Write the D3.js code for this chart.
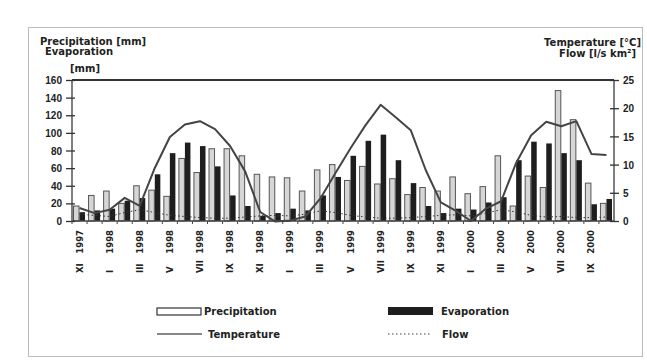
<!DOCTYPE html>
<html>
<head>
<meta charset="utf-8">
<script src="https://cdn.jsdelivr.net/npm/d3@7/dist/d3.min.js"></script>
<style>
  body { margin: 0; background: #fff; }
  svg { display: block; font-family: "DejaVu Sans", sans-serif; font-weight: bold; }
  .axis text { font-size: 10px; fill: #222; }
  .axis path { display: none; }
  .lbl { font-size: 10px; fill: #222; }
</style>
</head>
<body>
<script>
// monthly series, XI 1997 .. X 2000
const months = ["XI 1997","XII 1997","I 1998","II 1998","III 1998","IV 1998","V 1998","VI 1998","VII 1998","VIII 1998","IX 1998","X 1998",
                "XI 1998","XII 1998","I 1999","II 1999","III 1999","IV 1999","V 1999","VI 1999","VII 1999","VIII 1999","IX 1999","X 1999",
                "XI 1999","XII 1999","I 2000","II 2000","III 2000","IV 2000","V 2000","VI 2000","VII 2000","VIII 2000","IX 2000","X 2000"];
const precipitation = [17,29,34,20,40,35,28,71,55,82,82,74, 53,50,49,34,58,64,46,62,42,48,30,38, 34,50,31,39,74,17,51,38,148,115,43,20];
const evaporation   = [10,12,14,23,26,53,77,89,85,62,29,17, 6,9,14,12,29,50,74,91,98,69,43,17, 9,14,13,21,27,69,90,88,77,69,19,25];
const temperature   = [2.3,1.4,2.0,4.1,2.7,9.4,14.9,17.1,17.7,16.3,13.3,8.8, 1.6,-0.1,0.1,0.8,4.0,8.5,12.9,17.0,20.6,18.4,16.1,9.0, 3.3,1.8,0.0,2.2,3.5,10.3,15.2,17.6,16.8,17.7,11.9,11.7];
const flow          = [1.2,1.0,0.8,1.5,2.0,1.5,1.0,0.8,0.6,0.5,0.5,0.7, 0.9,1.0,0.9,1.2,1.8,1.5,1.0,0.7,0.5,0.5,0.6,0.8, 1.0,1.1,0.9,1.4,2.0,1.6,1.0,0.7,0.8,0.6,0.6,0.7];
const leftTicks = [0,20,40,60,80,100,120,140,160];
const rightTicks = [0,5,10,15,20,25];

const W = 647, H = 362;
const x0 = 72, x1 = 614, yTop = 80, yBot = 221;

const svg = d3.select("body").append("svg").attr("width", W).attr("height", H);

// outer frame
svg.append("rect").attr("x", 28.5).attr("y", 27.5).attr("width", 614).attr("height", 329)
  .attr("fill", "none").attr("stroke", "#bbb");

const x = d3.scaleBand().domain(months).range([x0, x1]).paddingInner(0.2).paddingOuter(0.1);
const sub = d3.scaleBand().domain(["p","e"]).range([0, x.bandwidth()]);
const yL = d3.scaleLinear().domain([0,160]).range([yBot, yTop]);
const yR = d3.scaleLinear().domain([0,25]).range([yBot, yTop]);

// bars
const g = svg.append("g");
g.selectAll("rect.p").data(precipitation).join("rect").attr("class","p")
  .attr("x", (d,i) => x(months[i]) + sub("p"))
  .attr("y", d => yL(d)).attr("width", sub.bandwidth() - 0.5).attr("height", d => yL(0) - yL(d))
  .attr("fill", "#d6d6d6").attr("stroke", "#555").attr("stroke-width", 1);
g.selectAll("rect.e").data(evaporation).join("rect").attr("class","e")
  .attr("x", (d,i) => x(months[i]) + sub("e"))
  .attr("y", d => yL(d)).attr("width", sub.bandwidth() - 0.5).attr("height", d => yL(0) - yL(d))
  .attr("fill", "#1e1e1e");

// lines
const cx = (d,i) => x(months[i]) + x.bandwidth()/2;
svg.append("path").datum(flow)
  .attr("d", d3.line().x(cx).y(d => yR(d)))
  .attr("fill","none").attr("stroke","#333").attr("stroke-width",1).attr("stroke-dasharray","1.5,2.5");
svg.append("path").datum(temperature)
  .attr("d", d3.line().x(cx).y(d => yR(d)))
  .attr("fill","none").attr("stroke","#444").attr("stroke-width",2).attr("stroke-linejoin","round");

// frame lines
svg.append("line").attr("x1", x0).attr("x2", x1).attr("y1", yTop).attr("y2", yTop).attr("stroke","#333").attr("stroke-width",1.8);
svg.append("line").attr("x1", x0).attr("x2", x1).attr("y1", yBot).attr("y2", yBot).attr("stroke","#444").attr("stroke-width",1.5);
svg.append("line").attr("x1", x0).attr("x2", x0).attr("y1", yTop).attr("y2", yBot).attr("stroke","#555").attr("stroke-width",1.5);
svg.append("line").attr("x1", x1).attr("x2", x1).attr("y1", yTop).attr("y2", yBot).attr("stroke","#555").attr("stroke-width",1.5);

// axes
const axL = svg.append("g").attr("class","axis").attr("transform", `translate(${x0},0)`)
  .call(d3.axisLeft(yL).tickValues(leftTicks).tickSize(6).tickPadding(4));
axL.selectAll(".tick line").attr("x1", 3).attr("stroke","#333").attr("stroke-width",1.3);
axL.selectAll(".tick text").attr("dy","0.36em");

const axR = svg.append("g").attr("class","axis").attr("transform", `translate(${x1},0)`)
  .call(d3.axisRight(yR).tickValues(rightTicks).tickSize(5).tickPadding(4));
axR.selectAll(".tick line").attr("x1", -4).attr("stroke","#333").attr("stroke-width",1.3);
axR.selectAll(".tick text").attr("dy","0.36em");

// month ticks
svg.append("g").selectAll("line").data(months).join("line")
  .attr("x1", d => x(d) - x.step()*x.paddingInner()/2).attr("x2", d => x(d) - x.step()*x.paddingInner()/2)
  .attr("y1", yBot).attr("y2", yBot + 3).attr("stroke","#444");

// rotated month labels every second month
const lab = months.filter((d,i) => i % 2 === 0);
const xl = svg.append("g").attr("font-size", "8.5px").attr("fill", "#222");
xl.selectAll("text.yr").data(lab).join("text").attr("class","yr")
  .attr("transform", d => `translate(${x(d) + x.bandwidth()/2 + 3},230) rotate(-90)`)
  .attr("text-anchor","end").text(d => d.split(" ")[1]);
xl.selectAll("text.rn").data(lab).join("text").attr("class","rn")
  .attr("transform", d => `translate(${x(d) + x.bandwidth()/2 + 3},273) rotate(-90)`)
  .attr("text-anchor","start").text(d => d.split(" ")[0]);

// axis titles
svg.append("text").attr("class","lbl").attr("x", 40).attr("y", 45).text("Precipitation [mm]");
svg.append("text").attr("class","lbl").attr("x", 45).attr("y", 55).text("Evaporation");
svg.append("text").attr("class","lbl").attr("x", 70).attr("y", 72).text("[mm]");
svg.append("text").attr("class","lbl").attr("x", 641).attr("y", 46).attr("text-anchor","end").text("Temperature [°C]");
svg.append("text").attr("class","lbl").attr("x", 636).attr("y", 57).attr("text-anchor","end").text("Flow [l/s km²]");

// legend
const lg = svg.append("g");
lg.append("rect").attr("x",157).attr("y",308).attr("width",44).attr("height",7).attr("fill","#fff").attr("stroke","#333").attr("stroke-width",1.2);
lg.append("text").attr("class","lbl").attr("x",204).attr("y",315).text("Precipitation");
lg.append("rect").attr("x",388).attr("y",307).attr("width",45).attr("height",8).attr("fill","#1e1e1e");
lg.append("text").attr("class","lbl").attr("x",441).attr("y",315).text("Evaporation");
lg.append("line").attr("x1",157).attr("x2",202).attr("y1",334).attr("y2",334).attr("stroke","#888").attr("stroke-width",2);
lg.append("text").attr("class","lbl").attr("x",208).attr("y",338).text("Temperature");
lg.append("line").attr("x1",388).attr("x2",432).attr("y1",334).attr("y2",334).attr("stroke","#444").attr("stroke-width",1).attr("stroke-dasharray","1.5,2.5");
lg.append("text").attr("class","lbl").attr("x",442).attr("y",338).text("Flow");
</script>
</body>
</html>
